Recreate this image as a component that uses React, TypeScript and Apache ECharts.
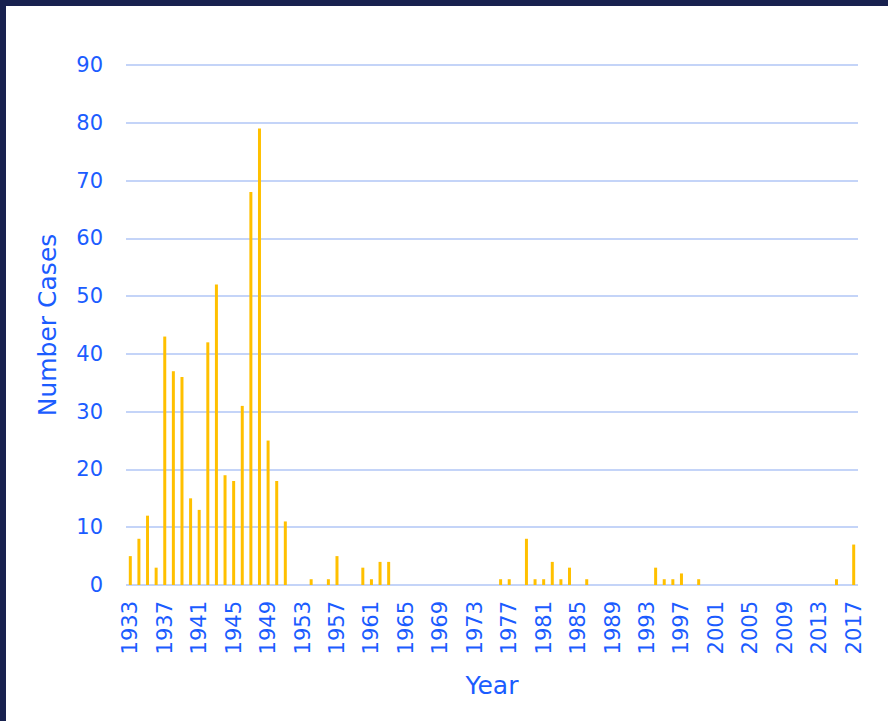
import React, { useEffect, useRef } from "react";
import * as echarts from "echarts";

const firstYear = 1933;
const lastYear = 2017;
const years: string[] = [];
for (let y = firstYear; y <= lastYear; y++) years.push(String(y));

// 1933 .. 2017
const cases = [
  5, 8, 12, 3, 43, 37, 36, 15, 13, 42, 52, 19, 18, 31, 68, 79, 25, 18, 11, 0, // 1933-1952
  0, 1, 0, 1, 5, 0, 0, 3, 1, 4, 4, // 1953-1963
  0, 0, 0, 0, 0, 0, 0, 0, 0, 0, 0, 0, // 1964-1975
  1, 1, 0, 8, 1, 1, 4, 1, 3, 0, 1, // 1976-1986
  0, 0, 0, 0, 0, 0, 0, // 1987-1993
  3, 1, 1, 2, 0, 1, // 1994-1999
  0, 0, 0, 0, 0, 0, 0, 0, 0, 0, 0, 0, 0, 0, 0, // 2000-2014
  1, 0, 7, // 2015-2017
];

const yTitle = "Number Cases";
const xTitle = "Year";

const BLUE = "#1b5cff";
const FONT = "'DejaVu Sans', Verdana, sans-serif";

export default function App() {
  const ref = useRef<HTMLDivElement>(null);
  useEffect(() => {
    if (!ref.current) return;
    const chart = echarts.init(ref.current, null, { renderer: "svg" });
    chart.setOption({
      animation: false,
      backgroundColor: "#ffffff",
      grid: { left: 120, right: 30, top: 59, bottom: 136, containLabel: false },
      xAxis: {
        type: "category",
        data: years,
        name: xTitle,
        nameLocation: "middle",
        nameGap: 88,
        nameTextStyle: { color: BLUE, fontSize: 25, fontFamily: FONT },
        axisLine: { show: false },
        axisTick: { show: false },
        axisLabel: {
          interval: 3,
          rotate: 90,
          margin: 16,
          color: BLUE,
          fontSize: 21,
          fontFamily: FONT,
        },
      },
      yAxis: {
        type: "value",
        min: 0,
        max: 90,
        interval: 10,
        name: yTitle,
        nameLocation: "middle",
        nameGap: 66,
        nameRotate: 90,
        nameTextStyle: { color: BLUE, fontSize: 25, fontFamily: FONT },
        axisLine: { show: false },
        axisTick: { show: false },
        axisLabel: { margin: 23, color: BLUE, fontSize: 21, fontFamily: FONT },
        splitLine: { lineStyle: { color: "#c4d4f8", width: 2 } },
      },
      series: [
        {
          type: "bar",
          data: cases,
          barWidth: 3,
          itemStyle: { color: "#ffc000" },
        },
      ],
    });
    return () => chart.dispose();
  }, []);
  return (
    <div
      style={{
        position: "fixed",
        left: 0,
        top: 0,
        width: 888,
        height: 721,
        background: "#18214f",
      }}
    >
      <div
        ref={ref}
        style={{ position: "absolute", left: 6, top: 6, width: 882, height: 715 }}
      />
    </div>
  );
}
